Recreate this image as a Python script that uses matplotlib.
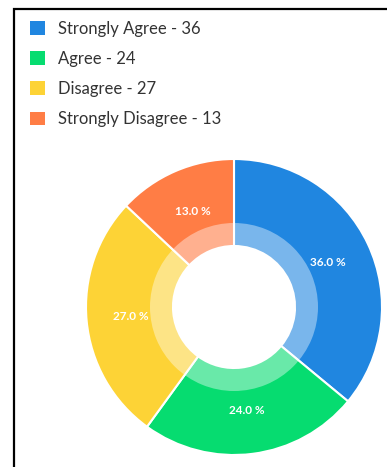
import matplotlib
matplotlib.use("Agg")
import matplotlib.pyplot as plt
from matplotlib.patches import Rectangle, Wedge

W, H = 387, 467
DPI = 100

labels = ["Strongly Agree", "Agree", "Disagree", "Strongly Disagree"]
values = [36, 24, 27, 13]
colors = ["#2086e0", "#06dc70", "#fdd336", "#ff7d45"]

CENTER = (234, H - 307)
R_OUT = 148
R_MID = 84
R_IN = 61

plt.rcParams['font.family'] = ['Lato', 'DejaVu Sans']

fig = plt.figure(figsize=(W / DPI, H / DPI), dpi=DPI)
ax = fig.add_axes([0, 0, 1, 1])

# full ring
wedges, _, autotexts = ax.pie(values, colors=colors, startangle=90, counterclock=False,
                              center=CENTER, radius=R_OUT,
                              autopct='%.1f %%', pctdistance=104 / R_OUT,
                              wedgeprops=dict(width=R_OUT - R_IN, edgecolor='white', linewidth=1.5),
                              textprops=dict(color='white', fontsize=8.5, fontweight='bold'))

# lighter inner band: translucent white veil over the ring
ax.add_patch(Wedge(CENTER, R_MID, 0, 360, width=R_MID - R_IN,
                   facecolor=(1, 1, 1, 0.4), edgecolor='none', zorder=2))

ax.set_xlim(0, W)
ax.set_ylim(0, H)
ax.set_aspect('equal')
ax.axis('off')

# frame of the screenshot
ax.add_patch(Rectangle((14, -20), 500, H - 9 + 20, fill=False, edgecolor='black', linewidth=1.6))

leg = ax.legend(wedges, ["{} - {}".format(l, v) for l, v in zip(labels, values)],
                loc='upper left', bbox_to_anchor=(23 / W, 1 - 14 / H),
                frameon=False, fontsize=12, labelcolor='#333333',
                handlelength=0.9, handleheight=0.9, handletextpad=0.8,
                labelspacing=0.85, borderaxespad=0)
for h in leg.legend_handles:
    h.set_edgecolor('none')

fig.savefig('out.png', dpi=DPI)
